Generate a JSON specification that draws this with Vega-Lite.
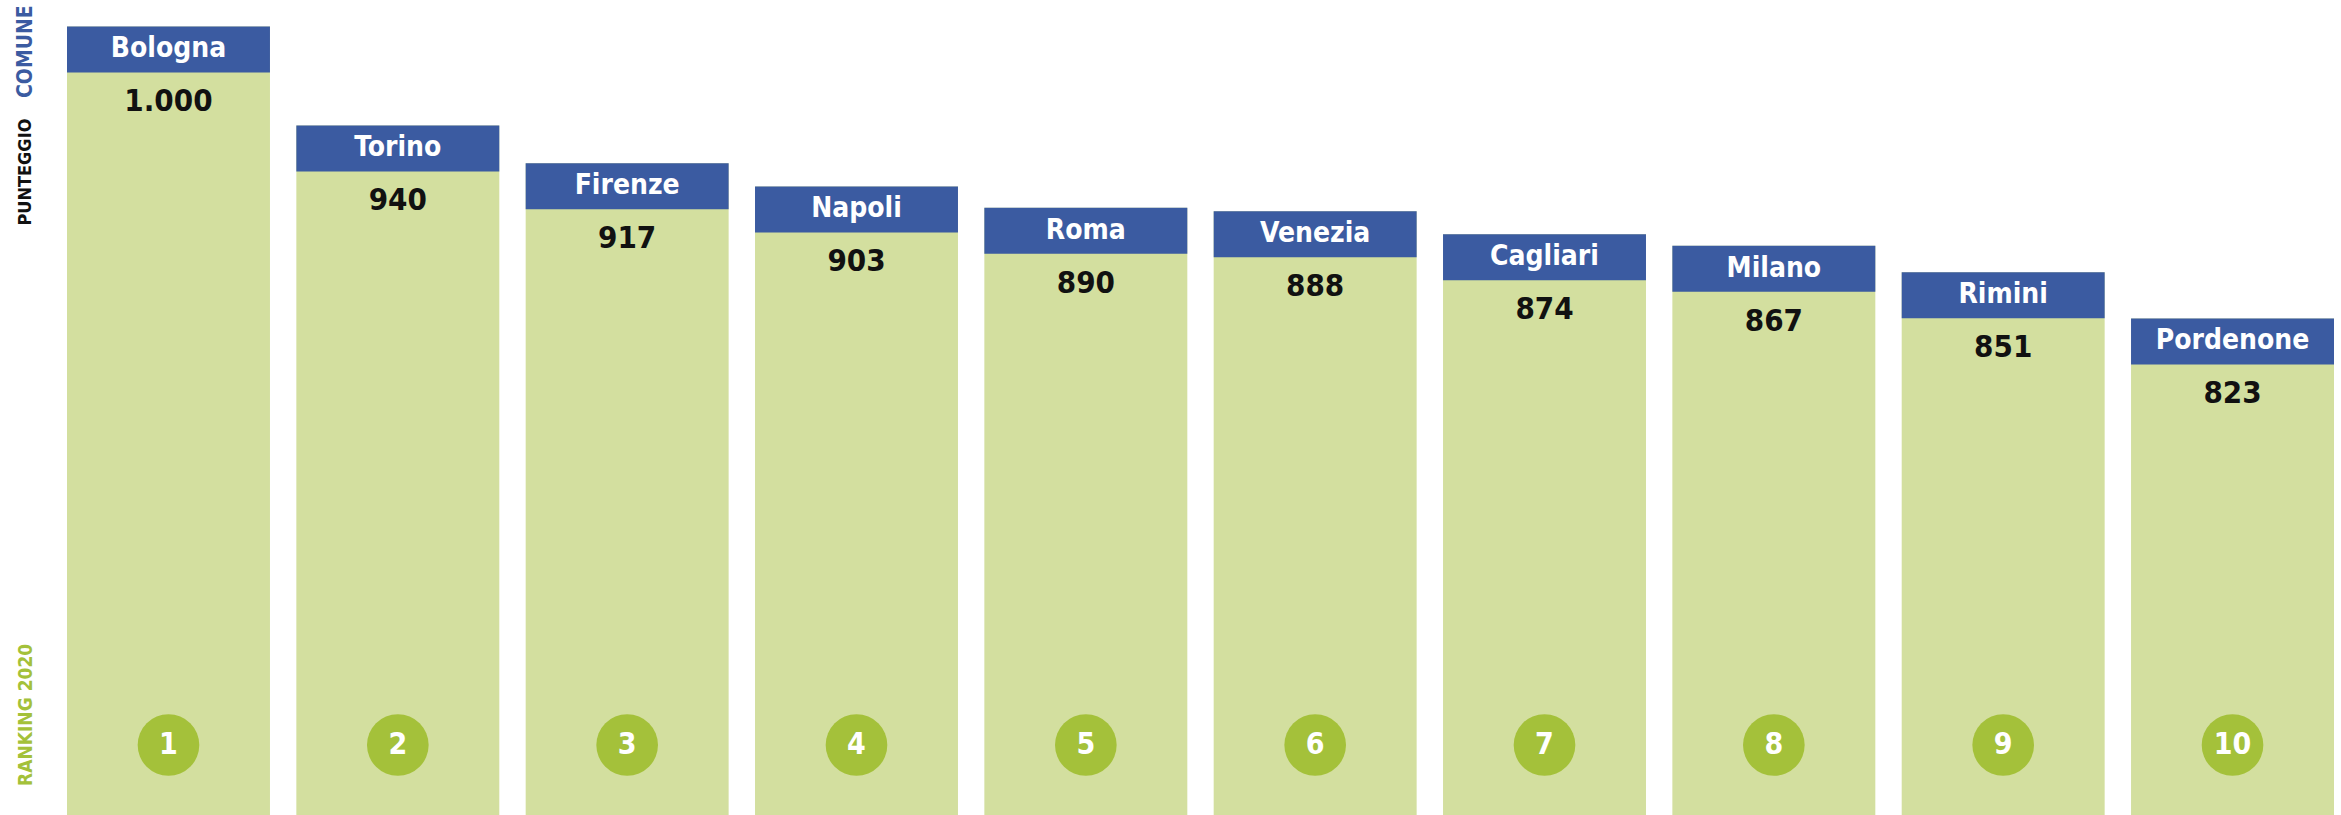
{
  "$schema": "https://vega.github.io/schema/vega-lite/v6.json",
  "width": 2267,
  "height": 815,
  "autosize": {"type": "none"},
  "padding": {"left": 67, "right": 7, "top": 0, "bottom": 0},
  "background": "white",
  "config": {
    "view": {"stroke": null},
    "locale": {"number": {"decimal": ",", "thousands": ".", "grouping": [3], "currency": ["€", ""]}}
  },
  "data": {
    "values": [
      {"rank": 1, "comune": "Bologna", "punteggio": 1000},
      {"rank": 2, "comune": "Torino", "punteggio": 940},
      {"rank": 3, "comune": "Firenze", "punteggio": 917},
      {"rank": 4, "comune": "Napoli", "punteggio": 903},
      {"rank": 5, "comune": "Roma", "punteggio": 890},
      {"rank": 6, "comune": "Venezia", "punteggio": 888},
      {"rank": 7, "comune": "Cagliari", "punteggio": 874},
      {"rank": 8, "comune": "Milano", "punteggio": 867},
      {"rank": 9, "comune": "Rimini", "punteggio": 851},
      {"rank": 10, "comune": "Pordenone", "punteggio": 823}
    ]
  },
  "encoding": {
    "x": {
      "field": "comune",
      "type": "nominal",
      "sort": null,
      "axis": null,
      "scale": {"paddingInner": 0.115, "paddingOuter": 0}
    }
  },
  "layer": [
    {
      "mark": {"type": "bar", "color": "#d3df9f"},
      "encoding": {
        "y": {
          "field": "punteggio",
          "type": "quantitative",
          "scale": {"domain": [522, 1016], "nice": false, "zero": false},
          "axis": {
            "orient": "left",
            "title": null,
            "values": [985, 912, 583],
            "labelExpr": "datum.value > 950 ? 'COMUNE' : (datum.value > 800 ? 'PUNTEGGIO' : 'RANKING 2020')",
            "ticks": false,
            "tickSize": 0,
            "domain": false,
            "grid": false,
            "labelAngle": 270,
            "labelAlign": "center",
            "labelBaseline": "middle",
            "labelPadding": 42,
            "labelOverlap": false,
            "labelBound": false,
            "labelFlush": false,
            "labelFont": "DejaVu Sans Condensed, Roboto Condensed, Roboto, sans-serif",
            "labelFontSize": {"expr": "datum.value > 950 ? 21 : (datum.value > 800 ? 18 : 19)"},
            "labelFontWeight": "bold",
            "labelColor": {"expr": "datum.value > 950 ? '#3b5ba1' : (datum.value > 800 ? '#111111' : '#a4c13a')"}
          }
        },
        "y2": {"datum": 522}
      }
    },
    {
      "mark": {"type": "bar", "color": "#3b5ba1", "y2Offset": 46},
      "encoding": {
        "y": {"field": "punteggio", "type": "quantitative"},
        "y2": {"field": "punteggio"}
      }
    },
    {
      "mark": {"type": "text", "dy": 23, "baseline": "middle", "align": "center", "color": "white", "font": "DejaVu Sans Condensed, Roboto Condensed, Roboto, sans-serif", "fontSize": 28, "fontWeight": "bold"},
      "encoding": {
        "y": {"field": "punteggio", "type": "quantitative"},
        "text": {"field": "comune"}
      }
    },
    {
      "mark": {"type": "text", "dy": 76, "baseline": "middle", "align": "center", "color": "#111111", "font": "DejaVu Sans Condensed, Roboto Condensed, Roboto, sans-serif", "fontSize": 31, "fontWeight": "bold"},
      "encoding": {
        "y": {"field": "punteggio", "type": "quantitative"},
        "text": {"field": "punteggio", "type": "quantitative", "format": ",d"}
      }
    },
    {
      "mark": {"type": "circle", "size": 3800, "color": "#a4c13a", "opacity": 1, "yOffset": -70},
      "encoding": {
        "y": {"datum": 522}
      }
    },
    {
      "mark": {"type": "text", "dy": -70, "baseline": "middle", "align": "center", "color": "white", "font": "DejaVu Sans Condensed, Roboto Condensed, Roboto, sans-serif", "fontSize": 30, "fontWeight": "bold"},
      "encoding": {
        "y": {"datum": 522},
        "text": {"field": "rank", "type": "quantitative"}
      }
    }
  ]
}
